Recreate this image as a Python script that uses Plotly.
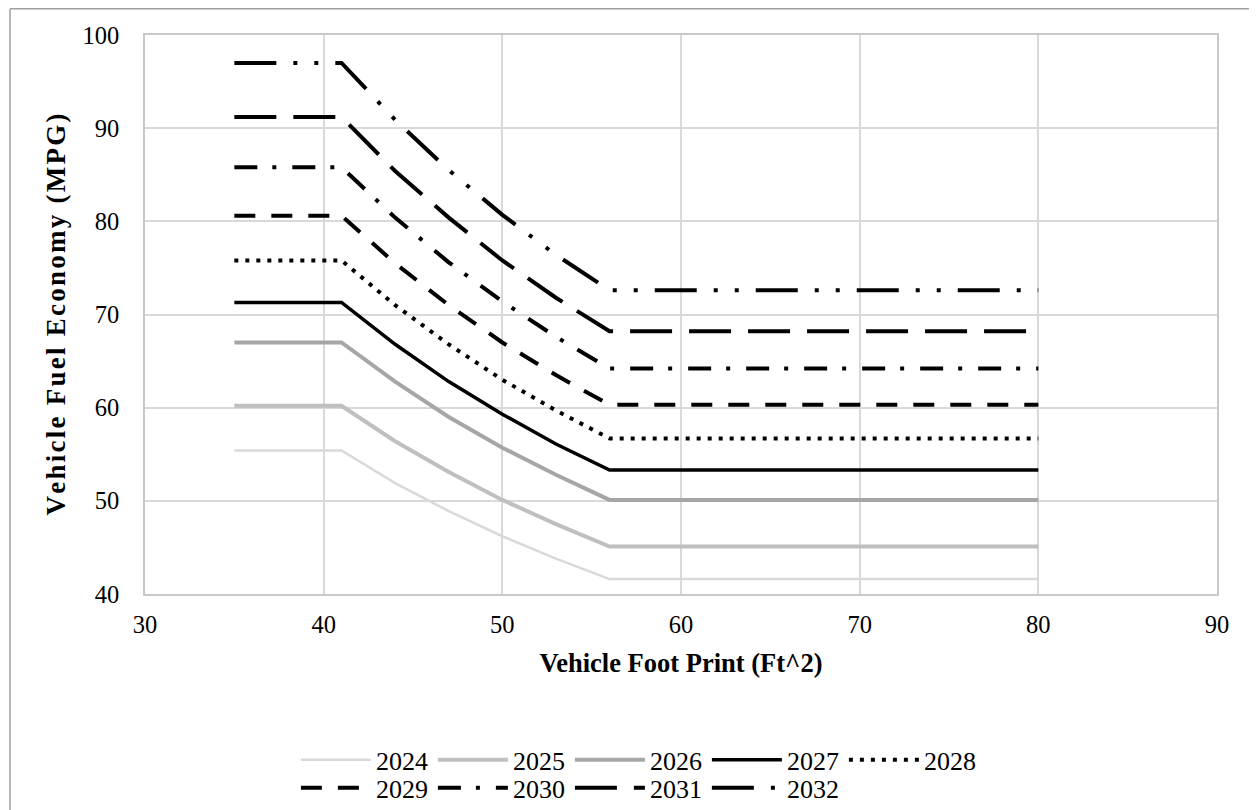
import plotly.graph_objects as go

# footprint points (ft^2)
footprint = [35, 41, 44, 47, 50, 53, 56, 80]

# fuel economy (MPG) per model year at each footprint point
mpg_2024 = [55.4, 55.4, 51.9, 48.9, 46.2, 43.8, 41.6, 41.6]
mpg_2025 = [60.2, 60.2, 56.4, 53.1, 50.1, 47.5, 45.1, 45.1]
mpg_2026 = [67.0, 67.0, 62.8, 59.0, 55.7, 52.8, 50.1, 50.1]
mpg_2027 = [71.3, 71.3, 66.8, 62.8, 59.3, 56.1, 53.3, 53.3]
mpg_2028 = [75.8, 75.8, 71.0, 66.8, 63.0, 59.7, 56.7, 56.7]
mpg_2029 = [80.6, 80.6, 75.5, 71.0, 67.0, 63.5, 60.3, 60.3]
mpg_2030 = [85.8, 85.8, 80.4, 75.6, 71.4, 67.6, 64.2, 64.2]
mpg_2031 = [91.2, 91.2, 85.4, 80.4, 75.8, 71.8, 68.2, 68.2]
mpg_2032 = [97.0, 97.0, 90.9, 85.5, 80.7, 76.4, 72.6, 72.6]

years = ["2024", "2025", "2026", "2027", "2028", "2029", "2030", "2031", "2032"]
series = [mpg_2024, mpg_2025, mpg_2026, mpg_2027, mpg_2028,
          mpg_2029, mpg_2030, mpg_2031, mpg_2032]

# Excel-ish line styles
styles = [
    dict(color="#d9d9d9", width=2.5, dash="solid"),
    dict(color="#bfbfbf", width=4, dash="solid"),
    dict(color="#a6a6a6", width=4, dash="solid"),
    dict(color="black", width=3.5, dash="solid"),
    dict(color="black", width=4, dash="4px,7px"),
    dict(color="black", width=4, dash="21px,16px"),
    dict(color="black", width=4, dash="23px,15px,4px,16px"),
    dict(color="black", width=4, dash="42px,17px"),
    dict(color="black", width=4, dash="42px,17px,4px,17px,4px,17px"),
]

font_family = "Liberation Serif, Times New Roman, serif"

fig = go.Figure()
for i, (yr, vals, st) in enumerate(zip(years, series, styles)):
    fig.add_trace(go.Scatter(
        x=footprint, y=vals,
        mode="lines",
        name=yr,
        line=st,
        legend="legend" if i < 5 else "legend2",
    ))

grid_style = dict(showgrid=True, gridwidth=1.5, gridcolor="#d9d9d9",
                  showline=True, linecolor="#c8c8c8", linewidth=1.5, mirror=True,
                  zeroline=False, ticks="", automargin=False,
                  tickfont=dict(family=font_family, size=24.5, color="black"))

legend_common = dict(
    orientation="h",
    xref="container", yref="container",
    xanchor="left", yanchor="middle",
    font=dict(family=font_family, size=26, color="black"),
    itemwidth=70,
    entrywidth=52,
    bgcolor="rgba(0,0,0,0)",
)

# hair spaces to mimic the loose letter spacing of the rotated title
ytitle = "\u200a".join("Vehicle Fuel Economy (MPG)")

# page body adds an 8px offset, so the figure is drawn 8px smaller
fig.update_layout(
    width=1249, height=802,
    margin=dict(l=137, r=40, t=27, b=216),
    paper_bgcolor="white",
    plot_bgcolor="white",
    xaxis=dict(range=[30, 90], dtick=10, ticklabelstandoff=8,
               title=dict(text="<b>Vehicle Foot Print (Ft^2)</b>", standoff=16,
                          font=dict(family=font_family, size=26.5, color="black")),
               **grid_style),
    yaxis=dict(range=[40, 100], dtick=10, ticklabelstandoff=19,
               title=dict(text="<b>" + ytitle + "</b>", standoff=9,
                          font=dict(family=font_family, size=27, color="black")),
               **grid_style),
    legend=dict(x=0.2305, y=0.0625, **legend_common),
    legend2=dict(x=0.2305, y=0.0275, **legend_common),
)

# thin outer chart border (left and top visible in the source)
fig.add_shape(type="line", xref="paper", yref="paper",
              x0=-0.1259, x1=1.04, y0=1.0470, y1=1.0470,
              line=dict(color="#a0a0a0", width=1.5))
fig.add_shape(type="line", xref="paper", yref="paper",
              x0=-0.1259, x1=-0.1259, y0=1.0470, y1=-0.40,
              line=dict(color="#a0a0a0", width=1.5))

fig.write_html("out.html")
